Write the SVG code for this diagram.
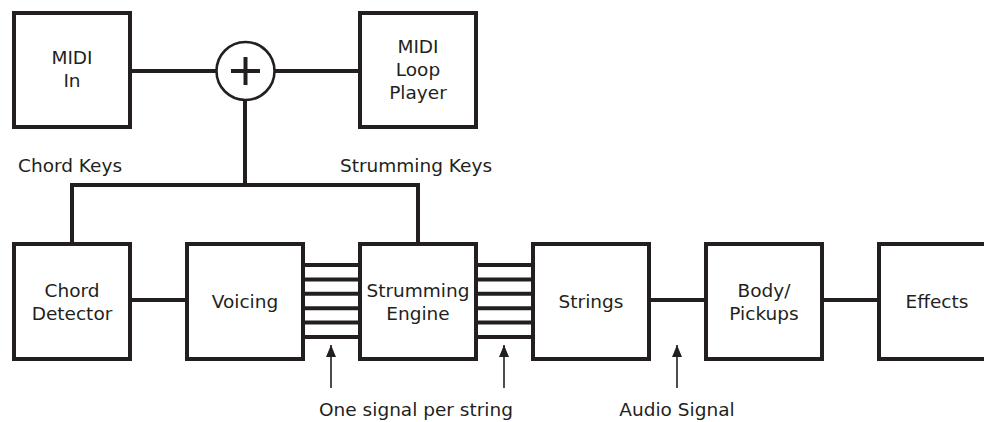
<svg xmlns="http://www.w3.org/2000/svg" width="984" height="422" viewBox="0 0 984 422">
<style>
.box{fill:#fff;stroke:#231f20;stroke-width:4}
.ln{stroke:#231f20;stroke-width:4;fill:none}
.thin{stroke:#231f20;stroke-width:1.6;fill:none}
text{font-family:"DejaVu Sans",sans-serif;font-size:18.5px;fill:#231f20;text-anchor:middle}
.lbl{text-anchor:start}
</style>
<defs>
<marker id="ah" markerWidth="12" markerHeight="10" refX="12" refY="5" orient="auto" markerUnits="userSpaceOnUse" viewBox="0 0 12 10">
<path d="M0,0 L12,5 L0,10 Z" fill="#231f20"/>
</marker>
</defs>
<rect width="984" height="422" fill="#fff"/>
<g id="connectors">
<line class="ln" x1="132" y1="71" x2="216" y2="71"/>
<line class="ln" x1="275" y1="71" x2="358" y2="71"/>
<line class="ln" x1="245" y1="100" x2="245" y2="187"/>
<polyline class="ln" points="72,244 72,185 418,185 418,244"/>
<line class="ln" x1="132" y1="300" x2="185" y2="300"/>
<g>
<line class="ln" x1="304" y1="265" x2="358" y2="265"/>
<line class="ln" x1="304" y1="279.4" x2="358" y2="279.4"/>
<line class="ln" x1="304" y1="293.8" x2="358" y2="293.8"/>
<line class="ln" x1="304" y1="308.2" x2="358" y2="308.2"/>
<line class="ln" x1="304" y1="322.6" x2="358" y2="322.6"/>
<line class="ln" x1="304" y1="337" x2="358" y2="337"/>
</g>
<g>
<line class="ln" x1="477" y1="265" x2="531" y2="265"/>
<line class="ln" x1="477" y1="279.4" x2="531" y2="279.4"/>
<line class="ln" x1="477" y1="293.8" x2="531" y2="293.8"/>
<line class="ln" x1="477" y1="308.2" x2="531" y2="308.2"/>
<line class="ln" x1="477" y1="322.6" x2="531" y2="322.6"/>
<line class="ln" x1="477" y1="337" x2="531" y2="337"/>
</g>
<line class="ln" x1="651" y1="300" x2="704" y2="300"/>
<line class="ln" x1="824" y1="300" x2="877" y2="300"/>
<line class="thin" x1="331" y1="388" x2="331" y2="345" marker-end="url(#ah)"/>
<line class="thin" x1="504" y1="388" x2="504" y2="345" marker-end="url(#ah)"/>
<line class="thin" x1="677" y1="388" x2="677" y2="345" marker-end="url(#ah)"/>
</g>
<g id="midi-in">
<rect class="box" x="14" y="13" width="116" height="114"/>
<text x="72" y="64">MIDI</text>
<text x="72" y="87">In</text>
</g>
<g id="sum">
<circle cx="245.5" cy="71" r="29" fill="#fff" stroke="#231f20" stroke-width="2.6"/>
<line class="ln" x1="231" y1="71" x2="260" y2="71"/>
<line class="ln" x1="245.5" y1="57" x2="245.5" y2="85"/>
</g>
<g id="midi-loop-player">
<rect class="box" x="360" y="13" width="116" height="114"/>
<text x="418" y="53">MIDI</text>
<text x="418" y="76">Loop</text>
<text x="418" y="99">Player</text>
</g>
<g id="labels-keys">
<text class="lbl" x="18" y="172">Chord Keys</text>
<text class="lbl" x="340" y="172">Strumming Keys</text>
</g>
<g id="chord-detector">
<rect class="box" x="14" y="244" width="116" height="115"/>
<text x="72" y="297">Chord</text>
<text x="72" y="320">Detector</text>
</g>
<g id="voicing">
<rect class="box" x="187" y="244" width="116" height="115"/>
<text x="245" y="308">Voicing</text>
</g>
<g id="strumming-engine">
<rect class="box" x="360" y="244" width="116" height="115"/>
<text x="418" y="297">Strumming</text>
<text x="418" y="320">Engine</text>
</g>
<g id="strings">
<rect class="box" x="533" y="244" width="116" height="115"/>
<text x="591" y="308">Strings</text>
</g>
<g id="body-pickups">
<rect class="box" x="706" y="244" width="116" height="115"/>
<text x="764" y="297">Body/</text>
<text x="764" y="320">Pickups</text>
</g>
<g id="effects">
<rect class="box" x="879" y="244" width="116" height="115"/>
<text x="937" y="308">Effects</text>
</g>
<g id="bottom-labels">
<text x="416" y="416">One signal per string</text>
<text x="677" y="416">Audio Signal</text>
</g>
</svg>
